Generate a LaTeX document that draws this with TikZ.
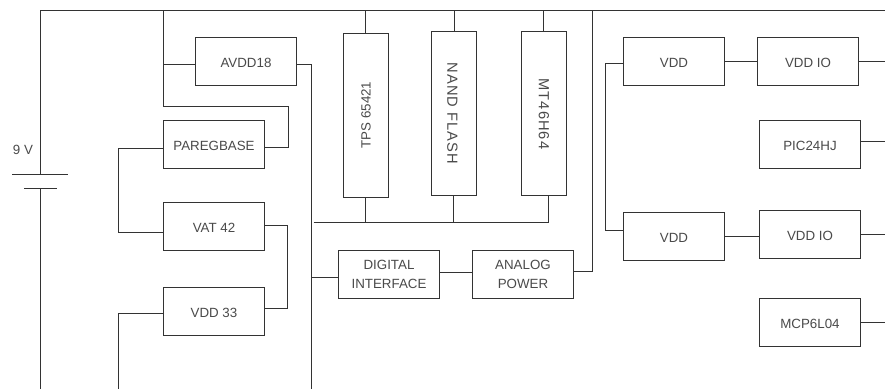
\documentclass[tikz,border=0pt]{standalone}
\usepackage{fontspec}
\setmainfont{Liberation Sans}
\definecolor{wire}{HTML}{333333}
\definecolor{ink}{HTML}{4A4A4A}
\newfontfamily\widefont[LetterSpace=7]{Liberation Sans}
\tikzset{
  wireline/.style={draw=wire,line width=1pt},
  blk/.style={draw=wire,line width=1pt,fill=white,text=ink,inner sep=0pt,align=center,font=\fontsize{10}{14.5}\selectfont,execute at begin node={\rule{0pt}{8.7pt}}},
  wide/.style={blk,minimum width=75.75pt,minimum height=36pt},
  tall/.style={blk,minimum width=33.75pt,minimum height=123pt},
  tag/.style={text=ink,inner sep=0pt,font=\fontsize{10}{12}\selectfont},
  widetag/.style={text=ink,inner sep=0pt,font=\widefont\fontsize{11}{12}\selectfont},
}
\begin{document}
\begin{tikzpicture}[x=0.75pt,y=-0.75pt]
\useasboundingbox (0,0) rectangle (885,389);
% blocks
\node[wide] (avdd) at (246,61.5) {AVDD18};
\node[wide] (pareg) at (214,144.5) {PAREGBASE};
\node[wide] (vat) at (214,226.5) {VAT 42};
\node[wide] (vdd33) at (214,311.5) {VDD 33};
\node[tall] (tps) at (366,115.5) {};
\node[tag,rotate=90] (tpsl) at (366,115) {TPS 65421};
\node[tall] (nand) at (454,113.5) {};
\node[widetag,rotate=-90] (nandl) at (452.5,113.5) {NAND FLASH};
\node[tall] (mt) at (544,113.5) {};
\node[widetag,rotate=-90] (mtl) at (544,114) {MT46H64};
\node[wide] (dig) at (389,274.5) {DIGITAL\\INTERFACE};
\node[wide] (ana) at (523,274.5) {ANALOG\\POWER};
\node[wide] (vdda) at (674,61.5) {VDD};
\node[wide] (ioa) at (808,61.5) {VDD IO};
\node[wide] (pic) at (810,144.5) {PIC24HJ};
\node[wide] (vddb) at (674,236.5) {VDD};
\node[wide] (iob) at (810,234.5) {VDD IO};
\node[wide] (mcp) at (810,322.5) {MCP6L04};
% battery
\coordinate (pa) at (40.5,174.5);
\coordinate (pb) at (40.5,188.5);
\node[tag] (vlabel) at (23,150) {9 V};
\draw[wireline] (12,174.5) -- (pa) -- (68,174.5);
\draw[wireline] (24,188.5) -- (pb) -- (57,188.5);
% named routing points
\coordinate (tl) at (40.5,10.5);
\coordinate (tr) at (885,10.5);
\coordinate (bl) at (40.5,389);
\coordinate (railL) at (163.5,10.5);
\coordinate (railR) at (311.5,389);
\coordinate (bend) at (288.5,106.5);
\coordinate (leftA) at (118.5,148.5);
\coordinate (rightB) at (287.5,225.5);
\coordinate (leftC) at (118.5,389);
\coordinate (busL) at (313.5,222.5);
\coordinate (busR) at (548.5,222.5);
\coordinate (anaUp) at (592.5,10.5);
\coordinate (leftD) at (605.5,63.5);
% main rail
\draw[wireline] (pa) -- (tl) -- (tr);
\draw[wireline] (pb) -- (bl);
% left side
\draw[wireline] (railL) |- (bend) |- ([yshift=-2.25pt]pareg.east);
\draw[wireline] ([yshift=-2.25pt]avdd.west) -- ([yshift=-2.25pt]avdd.west -| railL);
\draw[wireline] ([yshift=-2.25pt]avdd.east) -| (railR);
\draw[wireline] ([yshift=-3pt]pareg.west) -| (leftA) |- ([yshift=-4.5pt]vat.west);
\draw[wireline] ([yshift=0.75pt]vat.east) -- (rightB) |- ([yshift=2.25pt]vdd33.east);
\draw[wireline] ([yshift=-1.5pt]vdd33.west) -| (leftC);
% tall blocks
\draw[wireline] ([xshift=-0.375pt]tps.north) -- ([xshift=-0.375pt]tps.north |- tr);
\draw[wireline] ([xshift=0.375pt]nand.north) -- ([xshift=0.375pt]nand.north |- tr);
\draw[wireline] ([xshift=-0.375pt]mt.north) -- ([xshift=-0.375pt]mt.north |- tr);
\draw[wireline] (busL) -- (busR) -- (busR |- mt.south);
\draw[wireline] ([xshift=-0.375pt]tps.south) -- ([xshift=-0.375pt]tps.south |- busL);
\draw[wireline] ([xshift=-0.375pt]nand.south) -- ([xshift=-0.375pt]nand.south |- busL);
% bottom centre
\draw[wireline] ([yshift=-2.25pt]dig.west) -- ([yshift=-2.25pt]dig.west -| railR);
\draw[wireline] ([yshift=1.5pt]dig.east) -- ([yshift=1.5pt]ana.west);
\draw[wireline] ([yshift=2.25pt]ana.east) -| (anaUp);
% right side
\draw[wireline] ([yshift=-1.5pt]vdda.west) -| (leftD) |- ([yshift=4.5pt]vddb.west);
\draw[wireline] (vdda.east) -- (ioa.west);
\draw[wireline] (vddb.east) -- (vddb.east -| iob.west);
\draw[wireline] (ioa.east) -- (ioa.east -| tr);
\draw[wireline] ([yshift=2.25pt]pic.east) -- ([yshift=2.25pt]pic.east -| tr);
\draw[wireline] (iob.east) -- (iob.east -| tr);
\draw[wireline] (mcp.east) -- (mcp.east -| tr);
\end{tikzpicture}
\end{document}
